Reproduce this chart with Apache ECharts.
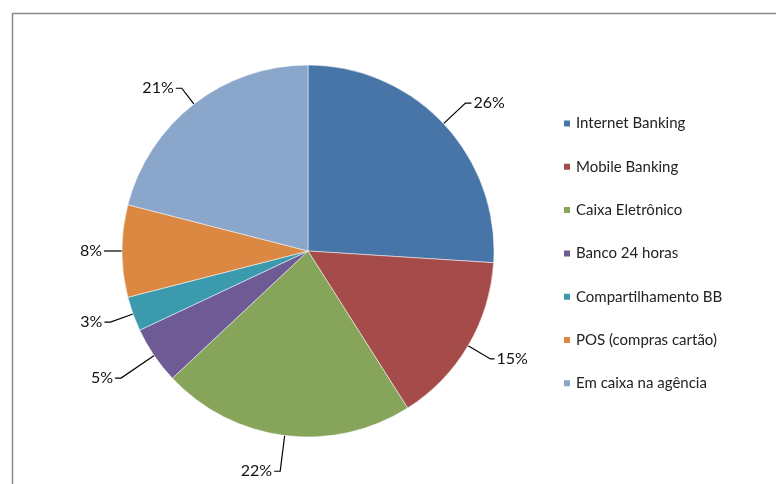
<!DOCTYPE html>
<html>
<head>
<meta charset="utf-8">
<script src="https://cdn.jsdelivr.net/npm/echarts@6/dist/echarts.min.js"></script>
<style>
  html, body { margin: 0; padding: 0; background: #fff; }
  #chart { width: 776px; height: 484px; }
</style>
</head>
<body>
<div id="chart"></div>
<script>
// channel shares, in the order they appear clockwise from 12 o'clock
const channels = ['Internet Banking', 'Mobile Banking', 'Caixa Eletrônico', 'Banco 24 horas', 'Compartilhamento BB', 'POS (compras cartão)', 'Em caixa na agência']
const shares = [26, 15, 22, 5, 3, 8, 21]
const colors = ['#4775a7', '#a54b4a', '#86a55b', '#6e5b96', '#3c9aaf', '#db8843', '#8aa6cb']
// leader line lengths per slice (first radial segment, then the short horizontal one)
const lineLen = [30, 26, 36, 40, 24, 12, 20]
const lineLen2 = [6, 4, 6, 6, 6, 6, 6]

const chart = echarts.init(document.getElementById('chart'))

const option = {
  backgroundColor: '#fff',
  animation: false,
  color: colors,
  textStyle: { fontFamily: 'Lato' },
  graphic: [
    {
      type: 'rect',
      shape: { x: 12.5, y: 13.5, width: 800, height: 500 },
      style: { fill: 'none', stroke: '#8a8a8a', lineWidth: 1.5 },
      silent: true
    }
  ],
  legend: {
    orient: 'vertical',
    left: 562,
    top: 116,
    padding: 0,
    icon: 'rect',
    itemWidth: 8,
    itemHeight: 8,
    itemGap: 28.3,
    textStyle: { fontFamily: 'Lato', fontSize: 15, color: '#222' },
    data: channels
  },
  series: [
    {
      type: 'pie',
      center: [308, 251],
      radius: 186,
      startAngle: 90,
      clockwise: true,
      avoidLabelOverlap: false,
      itemStyle: { borderColor: '#fff', borderWidth: 0.5 },
      label: {
        show: true,
        formatter: '{d}%',
        fontFamily: 'Lato',
        fontSize: 16,
        color: '#111',
        distanceToLabelLine: 2
      },
      labelLine: { show: true, lineStyle: { color: '#000', width: 1.2 } },
      emphasis: { disabled: true },
      data: channels.map((name, i) => ({
        name,
        value: shares[i],
        labelLine: { length: lineLen[i], length2: lineLen2[i] }
      }))
    }
  ]
}

chart.setOption(option)
</script>
</body>
</html>
